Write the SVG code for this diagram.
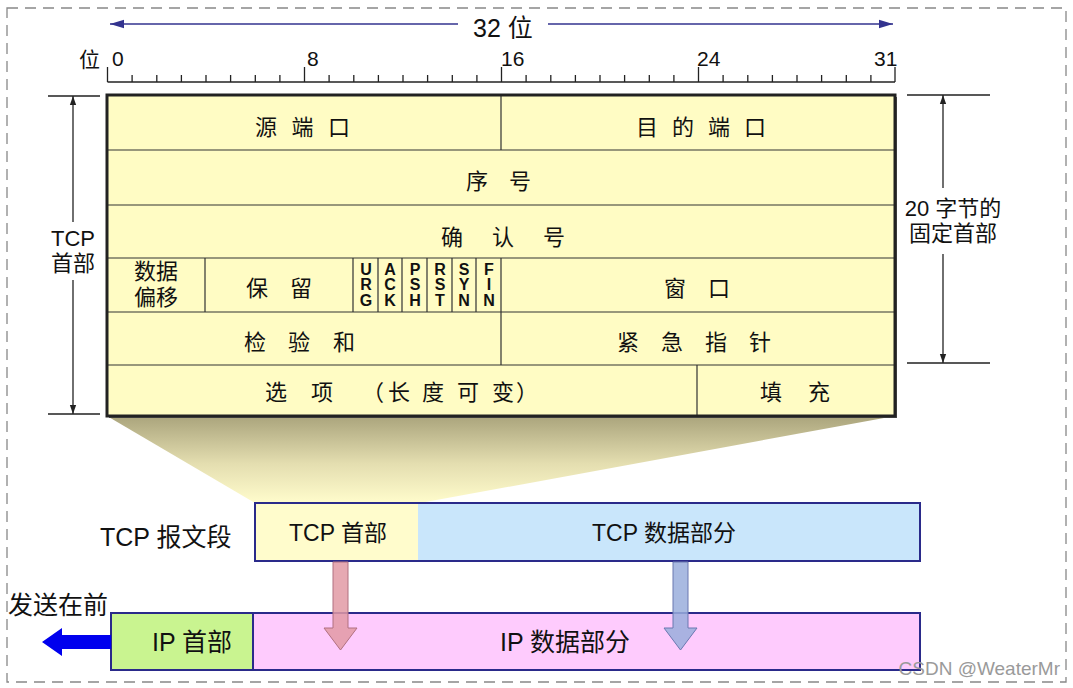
<svg xmlns="http://www.w3.org/2000/svg" width="1073" height="688" viewBox="0 0 1073 688">
<style>
text{font-family:"Liberation Sans","Noto Sans CJK SC",sans-serif;fill:#111;}
.t{font-size:22px;}
.c{font-size:22px;text-anchor:middle;}
.f{font-size:16px;font-weight:bold;text-anchor:middle;}
.l{font-size:21px;}
.cell{fill:#fffcc4;stroke:#333;stroke-width:1.2;}
.div{stroke:#333;stroke-width:1.2;}
.dim{stroke:#222;stroke-width:1.3;fill:none;}
.box{stroke:#2a2a8a;stroke-width:2;}
</style>
<defs>
<marker id="ah" viewBox="0 0 10 10" refX="10" refY="5" markerWidth="9" markerHeight="9" orient="auto-start-reverse" markerUnits="userSpaceOnUse"><path d="M0,1.5 L10,5 L0,8.5 Z" fill="#222"/></marker>
<marker id="ab" viewBox="0 0 10 10" refX="10" refY="5" markerWidth="14" markerHeight="14" orient="auto-start-reverse" markerUnits="userSpaceOnUse"><path d="M0,2 L10,5 L0,8 Z" fill="#33338f"/></marker>
<linearGradient id="trap" x1="0" y1="0" x2="0" y2="1">
<stop offset="0" stop-color="#aaa47c"/>
<stop offset="0.55" stop-color="#e4deb0"/>
<stop offset="1" stop-color="#fffccc"/>
</linearGradient>
</defs>
<rect x="7" y="8" width="1059" height="674" fill="none" stroke="#888" stroke-width="1.3" stroke-dasharray="11,7"/>

<g id="ruler">
<line x1="110" y1="24" x2="458" y2="24" stroke="#33338f" stroke-width="1.5" marker-start="url(#ab)"/>
<line x1="548" y1="24" x2="893" y2="24" stroke="#33338f" stroke-width="1.5" marker-end="url(#ab)"/>
<text x="503" y="37" text-anchor="middle" style="font-size:25px">32 位</text>
<text x="79" y="67" class="l">位</text>
<path d="M107.5,82 H895" stroke="#222" stroke-width="1.3" fill="none"/>
<path d="M107.5,82V67 M132.1,82V75 M156.8,82V75 M181.4,82V75 M206,82V75 M230.6,82V75 M255.3,82V75 M279.9,82V75 M304.5,82V67 M329.1,82V75 M353.8,82V75 M378.4,82V75 M403,82V75 M427.6,82V75 M452.3,82V75 M476.9,82V75 M501.5,82V67 M526.1,82V75 M550.8,82V75 M575.4,82V75 M600,82V75 M624.6,82V75 M649.3,82V75 M673.9,82V75 M698.5,82V67 M723.1,82V75 M747.8,82V75 M772.4,82V75 M797,82V75 M821.6,82V75 M846.3,82V75 M870.9,82V75 M895,82V67" stroke="#222" stroke-width="1.3" fill="none"/>
<text x="112" y="66" class="l">0</text>
<text x="307" y="66" class="l">8</text>
<text x="501" y="66" class="l">16</text>
<text x="697" y="66" class="l">24</text>
<text x="874" y="66" class="l">31</text>
</g>

<g id="trapezoid">
<path d="M107,416 L895,416 L420,503 L255,503 Z" fill="url(#trap)"/>
</g>

<g id="tcp-header">
<rect x="109" y="97" width="788" height="321" fill="#555"/>
<rect x="107" y="95" width="788" height="321" class="cell"/>
<path d="M107,150H895 M107,205H895 M107,258H895 M107,312H895 M107,365H895" class="div"/>
<path d="M501,95V150 M205,258V312 M353,258V312 M378,258V312 M402,258V312 M427,258V312 M452,258V312 M476,258V312 M501,258V365 M697,365V416" class="div"/>
<rect x="107" y="95" width="788" height="321" fill="none" stroke="#222" stroke-width="3"/>
<text x="255 291.5 328" y="135" class="t">源端口</text>
<text x="636 672 708 744" y="135" class="t">目的端口</text>
<text x="466 509" y="189" class="t">序号</text>
<text x="441 492 543" y="245" class="t">确认号</text>
<text x="134" y="279" class="t">数据</text>
<text x="134" y="305" class="t">偏移</text>
<text x="246 290" y="296" class="t">保留</text>
<g class="flags">
<text x="366" y="275" class="f">U</text><text x="366" y="290" class="f">R</text><text x="366" y="306" class="f">G</text>
<text x="390" y="275" class="f">A</text><text x="390" y="290" class="f">C</text><text x="390" y="306" class="f">K</text>
<text x="415" y="275" class="f">P</text><text x="415" y="290" class="f">S</text><text x="415" y="306" class="f">H</text>
<text x="440" y="275" class="f">R</text><text x="440" y="290" class="f">S</text><text x="440" y="306" class="f">T</text>
<text x="464" y="275" class="f">S</text><text x="464" y="290" class="f">Y</text><text x="464" y="306" class="f">N</text>
<text x="489" y="275" class="f">F</text><text x="489" y="290" class="f">I</text><text x="489" y="306" class="f">N</text>
</g>
<text x="664 708" y="296" class="t">窗口</text>
<text x="244 288 333" y="350" class="t">检验和</text>
<text x="617 661 705 749" y="350" class="t">紧急指针</text>
<text x="265 311 362 388 422 457 492 516" y="400" class="t">选项（长度可变）</text>
<text x="760 808" y="400" class="t">填充</text>
</g>

<g id="dim-left">
<path d="M48,96H100 M48,414H100" class="dim"/>
<line x1="73" y1="96" x2="73" y2="222" class="dim" marker-start="url(#ah)"/>
<line x1="73" y1="280" x2="73" y2="414" class="dim" marker-end="url(#ah)"/>
<text x="73" y="246" class="c">TCP</text>
<text x="73" y="271" class="c">首部</text>
</g>

<g id="dim-right">
<path d="M907,95H990 M907,363H990" class="dim"/>
<line x1="943" y1="95" x2="943" y2="188" class="dim" marker-start="url(#ah)"/>
<line x1="943" y1="254" x2="943" y2="363" class="dim" marker-end="url(#ah)"/>
<text x="953" y="216" class="c">20 字节的</text>
<text x="953" y="241" class="c">固定首部</text>
</g>

<g id="tcp-segment">
<text x="100" y="546" font-size="25">TCP 报文段</text>
<rect x="255" y="503" width="163" height="58" fill="#fffccc"/>
<rect x="418" y="503" width="502" height="58" fill="#c9e6fb"/>
<rect x="255" y="503" width="665" height="58" fill="none" class="box"/>
<text x="338" y="541" font-size="23" text-anchor="middle">TCP 首部</text>
<text x="664" y="541" font-size="23" text-anchor="middle">TCP 数据部分</text>
</g>

<g id="ip-datagram">
<text x="8" y="614" font-size="25">发送在前</text>
<rect x="111" y="613" width="142" height="57" fill="#c9f490"/>
<rect x="253" y="613" width="667" height="57" fill="#fecbfd"/>
<rect x="111" y="613" width="809" height="57" fill="none" class="box"/>
<line x1="253" y1="613" x2="253" y2="670" class="box"/>
<text x="192" y="651" font-size="25" text-anchor="middle">IP 首部</text>
<text x="565" y="651" font-size="25" text-anchor="middle">IP 数据部分</text>
</g>

<g id="connectors">
<path d="M111,635 H62 V628 L42,642 L62,656 V649 H111 Z" fill="#0000ee"/>
<path d="M333,562 H348 V628 H357 L340.5,650 L324,628 H333 Z" fill="#e29aa5" fill-opacity="0.85" stroke="#b07080" stroke-width="1"/>
<path d="M673,562 H688 V628 H697 L680.5,650 L664,628 H673 Z" fill="#9aaedc" fill-opacity="0.85" stroke="#6a78b0" stroke-width="1"/>
</g>

<text x="1060" y="675" font-size="19" text-anchor="end" style="fill:#9a9a9a">CSDN @WeaterMr</text>
</svg>
